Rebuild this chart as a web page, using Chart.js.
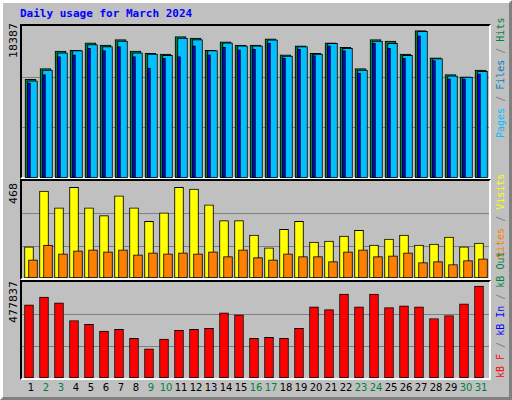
<!DOCTYPE html>
<html>
<head>
<meta charset="utf-8">
<script src="https://cdn.jsdelivr.net/npm/chart.js@4"></script>
<style>
body { margin:0; background:#fff; }
#frame { position:absolute; left:0; top:0; width:506px; height:394px; background:#c0c0c0;
  border:1px solid #000; border-left:3px solid #fff; border-top:3px solid #fff; border-right:3px solid #808080; border-bottom:3px solid #808080; box-sizing:content-box; }
.panel { position:absolute; left:20px; width:471px; border-left:2px solid #000; border-top:2px solid #000; border-right:2px solid #fff; border-bottom:2px solid #fff; box-sizing:border-box; }
.panel canvas { position:absolute; left:0; top:0; }
.rot { position:absolute; transform:rotate(-90deg); transform-origin:left top; white-space:nowrap; font:10px "DejaVu Sans Mono"; line-height:12px; }
.yl { position:absolute; transform:rotate(-90deg); transform-origin:left top; white-space:nowrap; font:11px "DejaVu Sans"; line-height:12px; color:#000; }
#title { position:absolute; left:20px; top:7px; font:bold 11px "DejaVu Sans Mono"; color:#0000ff; }
.dl { position:absolute; top:382px; font:10px "DejaVu Sans"; width:16px; text-align:center; }
</style>
</head>
<body>
<div id="frame"></div>
<div id="title">Daily usage for March 2024</div>
<div class="panel" style="top:24px;height:155px"><canvas id="c1"></canvas></div>
<div class="panel" style="top:179px;height:101px"><canvas id="c2"></canvas></div>
<div class="panel" style="top:280px;height:100px"><canvas id="c3"></canvas></div>
<div class="yl" style="left:8px;top:58px">18387</div>
<div class="yl" style="left:8px;top:204px">468</div>
<div class="yl" style="left:8px;top:323px">477837</div>
<div class="rot" style="left:495px;top:138px"><span style="color:#00c0ff">Pages</span><span style="color:#808080"> / </span><span style="color:#0080c0">Files</span><span style="color:#808080"> / </span><span style="color:#008040">Hits</span></div>
<div class="rot" style="left:495px;top:258px"><span style="color:#ff8000">Sites</span><span style="color:#808080"> / </span><span style="color:#ffff00">Visits</span></div>
<div class="rot" style="left:495px;top:378px"><span style="color:#ff0000">kB F</span><span style="color:#808080"> / </span><span style="color:#0000ff">kB In</span><span style="color:#808080"> / </span><span style="color:#008040">kB Out</span></div>
<div id="days"></div>
<script>
var days = [];
for (var d = 1; d <= 31; d++) days.push(d);
var weekend = [2, 3, 9, 10, 16, 17, 23, 24, 30, 31];

var hitsMax = 18387;
var visitsMax = 468;
var kbMax = 477837;

var hits = [11950, 13240, 15350, 15450, 16360, 16090, 16730, 15350, 15080, 14990, 17100, 16920, 15450, 16460, 16090,
  16090, 16820, 14890, 16000, 15080, 16360, 15810, 13240, 16730, 16550, 14990, 17840, 14530, 12500, 12230, 13060];
var files = [11750, 13050, 15150, 15400, 16150, 15900, 16550, 15150, 14990, 14850, 16920, 16730, 15400, 16360, 16000,
  15990, 16700, 14750, 15900, 14990, 16300, 15700, 13050, 16550, 16280, 14850, 17750, 14450, 12370, 12200, 12900];
var pages = [11500, 12500, 14700, 14900, 15700, 15400, 15900, 14700, 13300, 14500, 14700, 16000, 14900, 15800, 15500,
  15600, 16300, 14500, 15600, 14800, 16000, 15400, 12700, 16300, 15700, 14500, 17200, 14200, 12000, 12000, 12600];

var visits = [150, 419, 339, 438, 339, 301, 396, 339, 273, 315, 438, 429, 353, 277, 277,
  207, 145, 235, 273, 173, 178, 202, 230, 159, 188, 207, 159, 164, 197, 150, 169];
var sites = [88, 159, 117, 131, 136, 126, 136, 112, 121, 117, 121, 117, 126, 103, 136,
  98, 88, 117, 103, 103, 79, 126, 136, 103, 107, 121, 74, 79, 65, 84, 93];

var kbF = [364000, 403000, 374000, 286000, 267000, 233000, 242000, 198000, 145000, 194000, 237000, 242000, 247000, 325000, 315000,
  198000, 203000, 198000, 247000, 354000, 340000, 418000, 354000, 418000, 350000, 359000, 354000, 296000, 311000, 369000, 457000];

// day labels
var html = '';
days.forEach(function (d) {
  var col = weekend.indexOf(d) >= 0 ? '#008040' : '#000';
  html += '<div class="dl" style="left:' + (23 + 15 * (d - 1)) + 'px;color:' + col + '">' + d + '</div>';
});
document.getElementById('days').innerHTML = html;

var gridPlugin = {
  id: 'grid3',
  beforeDatasetsDraw: function (chart) {
    var ctx = chart.ctx, y = chart.scales.y, a = chart.chartArea;
    ctx.save();
    ctx.strokeStyle = '#808080';
    ctx.lineWidth = 1;
    [1, 2].forEach(function (k) {
      var py = Math.round(y.getPixelForValue(y.max * k / 3)) + 0.5;
      ctx.beginPath(); ctx.moveTo(a.left, py); ctx.lineTo(a.right, py); ctx.stroke();
    });
    ctx.restore();
  }
};

// px offset relative to day center, converted to x units (15px per day)
function pts(values, offPx) {
  return values.map(function (v, i) { return { x: days[i] + offPx / 15, y: v }; });
}
function ds(values, offPx, w, color, order) {
  return { data: pts(values, offPx), backgroundColor: color, borderColor: '#000', borderWidth: 1,
    borderSkipped: false, barThickness: w, grouped: false, order: order };
}

// canvas starts 2px inside panel (x=22), day center d at 16+15d -> within canvas -6+15d
function setup(id, w, h, max, datasets) {
  var cv = document.getElementById(id);
  cv.width = w; cv.height = h;
  cv.style.width = w + 'px'; cv.style.height = h + 'px';
  return new Chart(cv, {
    type: 'bar',
    data: { datasets: datasets },
    options: {
      responsive: false, animation: false, devicePixelRatio: 1,
      layout: { padding: 0 },
      plugins: { legend: { display: false }, tooltip: { enabled: false } },
      scales: {
        x: { type: 'linear', display: false, offset: false, bounds: 'ticks', min: 6 / 15, max: (467 + 6) / 15 },
        y: { display: false, min: 0, max: max }
      }
    },
    plugins: [gridPlugin]
  });
}
setup('c1', 467, 152, hitsMax, [
  ds(hits, -0.5, 11, '#008040', 3),
  ds(files, 1.5, 10, '#00c0ff', 2),
  ds(pages, -2, 3, '#0000ff', 1)
]);
setup('c2', 467, 97, visitsMax, [
  ds(visits, -2, 9, '#ffff00', 2),
  ds(sites, 2, 9, '#ff8000', 1)
]);
setup('c3', 467, 96, kbMax, [
  ds(kbF, -2, 9, '#ff0000', 1)
]);
</script>
</body>
</html>
